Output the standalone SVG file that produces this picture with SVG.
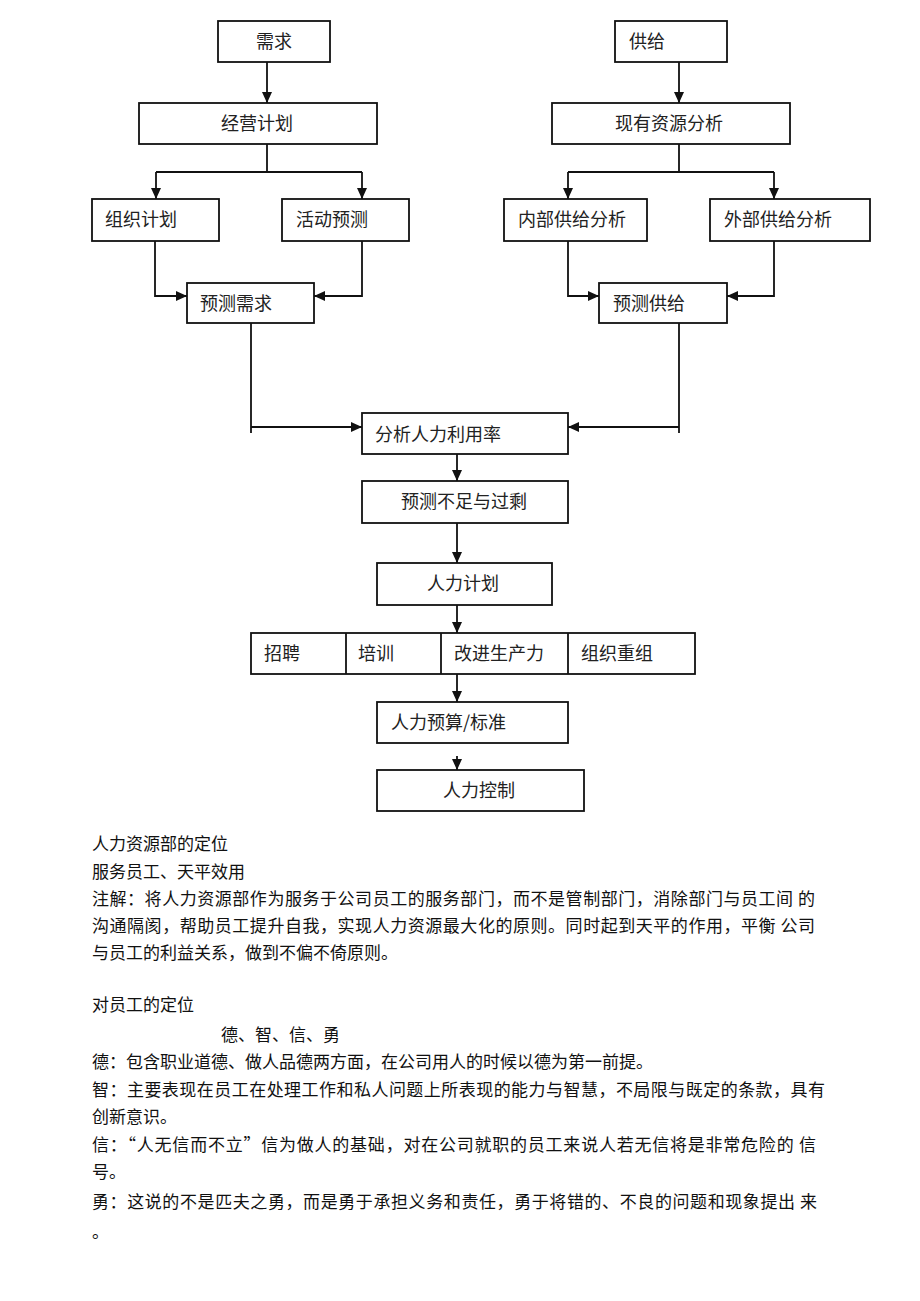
<svg xmlns="http://www.w3.org/2000/svg" width="920" height="1301" viewBox="0 0 920 1301">
<style>
  .box { fill: #ffffff; stroke: #111111; stroke-width: 1.8; }
  .lbl { font-family: "Noto Sans CJK SC", "Liberation Serif", sans-serif; font-size: 18px; fill: #222222; }
  .body { font-family: "Noto Sans CJK SC", "Liberation Serif", sans-serif; font-size: 17px; fill: #111111; }
  .ln { fill: none; stroke: #111111; stroke-width: 1.8; }
  .arr { fill: none; stroke: #111111; stroke-width: 1.8; marker-end: url(#ah); }
</style>
<defs>
  <marker id="ah" markerUnits="userSpaceOnUse" markerWidth="11" markerHeight="10" refX="11" refY="5" orient="auto">
    <path d="M0,0 L11,5 L0,10 z" fill="#111111"/>
  </marker>
</defs>
<rect width="920" height="1301" fill="#ffffff"/>

<g id="connectors">
  <!-- demand side -->
  <line class="arr" x1="267" y1="62" x2="267" y2="103"/>
  <line class="ln" x1="267" y1="144" x2="267" y2="172"/>
  <line class="ln" x1="156" y1="172" x2="362" y2="172"/>
  <line class="arr" x1="156" y1="172" x2="156" y2="199"/>
  <line class="arr" x1="362" y1="172" x2="362" y2="199"/>
  <polyline class="arr" points="155,241 155,296 187,296"/>
  <polyline class="arr" points="362,241 362,296 314,296"/>
  <line class="ln" x1="251" y1="323" x2="251" y2="433"/>
  <line class="arr" x1="251" y1="427" x2="362" y2="427"/>
  <!-- supply side -->
  <line class="arr" x1="679" y1="62" x2="679" y2="103"/>
  <line class="ln" x1="679" y1="144" x2="679" y2="172"/>
  <line class="ln" x1="568" y1="172" x2="774" y2="172"/>
  <line class="arr" x1="568" y1="172" x2="568" y2="199"/>
  <line class="arr" x1="774" y1="172" x2="774" y2="199"/>
  <polyline class="arr" points="568,241 568,296 599,296"/>
  <polyline class="arr" points="774,241 774,296 727,296"/>
  <line class="ln" x1="679" y1="323" x2="679" y2="433"/>
  <line class="arr" x1="679" y1="427" x2="568" y2="427"/>
  <!-- main chain -->
  <line class="arr" x1="457" y1="454" x2="457" y2="481"/>
  <line class="arr" x1="457" y1="523" x2="457" y2="563"/>
  <line class="arr" x1="457" y1="605" x2="457" y2="633"/>
  <line class="arr" x1="457" y1="674" x2="457" y2="702"/>
  <line class="arr" x1="457" y1="756" x2="457" y2="770"/>
</g>

<g id="demand">
  <rect class="box" x="218" y="21" width="112" height="41"/>
  <text class="lbl" x="256" y="48">需求</text>
</g>
<g id="business-plan">
  <rect class="box" x="139" y="103" width="238" height="41"/>
  <text class="lbl" x="221" y="130">经营计划</text>
</g>
<g id="org-plan">
  <rect class="box" x="92" y="199" width="127" height="42"/>
  <text class="lbl" x="105" y="226">组织计划</text>
</g>
<g id="activity-forecast">
  <rect class="box" x="282" y="199" width="127" height="42"/>
  <text class="lbl" x="296" y="226">活动预测</text>
</g>
<g id="forecast-demand">
  <rect class="box" x="187" y="283" width="127" height="40"/>
  <text class="lbl" x="200" y="310">预测需求</text>
</g>

<g id="supply">
  <rect class="box" x="615" y="21" width="112" height="41"/>
  <text class="lbl" x="629" y="48">供给</text>
</g>
<g id="resource-analysis">
  <rect class="box" x="552" y="103" width="238" height="41"/>
  <text class="lbl" x="615" y="130">现有资源分析</text>
</g>
<g id="internal-supply">
  <rect class="box" x="504" y="199" width="143" height="42"/>
  <text class="lbl" x="518" y="226">内部供给分析</text>
</g>
<g id="external-supply">
  <rect class="box" x="710" y="199" width="160" height="42"/>
  <text class="lbl" x="724" y="226">外部供给分析</text>
</g>
<g id="forecast-supply">
  <rect class="box" x="599" y="283" width="128" height="40"/>
  <text class="lbl" x="613" y="310">预测供给</text>
</g>

<g id="utilization">
  <rect class="box" x="362" y="413" width="206" height="41"/>
  <text class="lbl" x="375" y="441">分析人力利用率</text>
</g>
<g id="shortage-surplus">
  <rect class="box" x="362" y="481" width="206" height="42"/>
  <text class="lbl" x="401" y="508">预测不足与过剩</text>
</g>
<g id="hr-plan">
  <rect class="box" x="377" y="563" width="175" height="42"/>
  <text class="lbl" x="427" y="590">人力计划</text>
</g>
<g id="actions">
  <rect class="box" x="251" y="633" width="444" height="41"/>
  <line class="ln" x1="346" y1="633" x2="346" y2="674"/>
  <line class="ln" x1="441" y1="633" x2="441" y2="674"/>
  <line class="ln" x1="568" y1="633" x2="568" y2="674"/>
  <text class="lbl" x="264" y="660">招聘</text>
  <text class="lbl" x="358" y="660">培训</text>
  <text class="lbl" x="454" y="660">改进生产力</text>
  <text class="lbl" x="581" y="660">组织重组</text>
</g>
<g id="budget">
  <rect class="box" x="377" y="702" width="191" height="41"/>
  <text class="lbl" x="391" y="729">人力预算/标准</text>
</g>
<g id="control">
  <rect class="box" x="377" y="770" width="207" height="41"/>
  <text class="lbl" x="443" y="797">人力控制</text>
</g>

<g id="notes">
  <text class="body" x="92" y="850">人力资源部的定位</text>
  <text class="body" x="92" y="878">服务员工、天平效用</text>
  <text class="body" x="92" y="905" textLength="723" lengthAdjust="spacing">注解：将人力资源部作为服务于公司员工的服务部门，而不是管制部门，消除部门与员工间 的</text>
  <text class="body" x="92" y="932" textLength="723" lengthAdjust="spacing">沟通隔阂，帮助员工提升自我，实现人力资源最大化的原则。同时起到天平的作用，平衡 公司</text>
  <text class="body" x="92" y="959">与员工的利益关系，做到不偏不倚原则。</text>

  <text class="body" x="92" y="1011">对员工的定位</text>
  <text class="body" x="221" y="1041">德、智、信、勇</text>
  <text class="body" x="92" y="1068">德：包含职业道德、做人品德两方面，在公司用人的时候以德为第一前提。</text>
  <text class="body" x="92" y="1096" textLength="733" lengthAdjust="spacing">智：主要表现在员工在处理工作和私人问题上所表现的能力与智慧，不局限与既定的条款，具有</text>
  <text class="body" x="92" y="1123">创新意识。</text>
  <text class="body" x="92" y="1151" textLength="724" lengthAdjust="spacing">信：“人无信而不立”信为做人的基础，对在公司就职的员工来说人若无信将是非常危险的 信</text>
  <text class="body" x="92" y="1178">号。</text>
  <text class="body" x="92" y="1208" textLength="725" lengthAdjust="spacing">勇：这说的不是匹夫之勇，而是勇于承担义务和责任，勇于将错的、不良的问题和现象提出 来</text>
  <text class="body" x="92" y="1238">。</text>
</g>
</svg>
